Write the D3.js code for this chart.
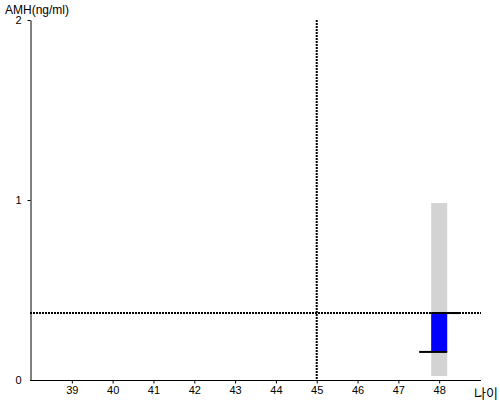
<!DOCTYPE html>
<html>
<head>
<meta charset="utf-8">
<script src="https://cdn.jsdelivr.net/npm/d3@7"></script>
<style>
  body { margin: 0; background: #fff; }
  text { font-family: Arial, "Liberation Sans", sans-serif; }
</style>
</head>
<body>
<script>
// datos
const ageTicks = [39, 40, 41, 42, 43, 44, 45, 46, 47, 48];
const amhTicks = [0, 1, 2];
const refAge = 45;          // línea vertical punteada
const refAmh = 0.372;       // línea horizontal punteada
const rangeAge = [48];
const rangeLow = [0.022];   // barra gris
const rangeHigh = [0.983];
const valueLow = [0.156];   // barra azul
const valueHigh = [0.372];

var width = 500, height = 400;

var svg = d3.select("body")
    .append("svg")
    .attr("width", width)
    .attr("height", height);

const x = d3.scaleLinear().domain([38, 49]).range([31, 480]);
const y = d3.scaleLinear().domain([0, 2]).range([380, 20]);
const barW = 16;

// barra gris (rango)
svg.selectAll("rect.range")
    .data(rangeAge)
    .enter()
    .append("rect")
    .attr("class", "range")
    .attr("x", d => x(d) - barW / 2)
    .attr("width", barW)
    .attr("y", (d, i) => y(rangeHigh[i]))
    .attr("height", (d, i) => y(rangeLow[i]) - y(rangeHigh[i]))
    .attr("fill", "#d3d3d3");

// barra azul
svg.selectAll("rect.value")
    .data(rangeAge)
    .enter()
    .append("rect")
    .attr("class", "value")
    .attr("x", d => x(d) - barW / 2)
    .attr("width", barW)
    .attr("y", (d, i) => y(valueHigh[i]))
    .attr("height", (d, i) => y(valueLow[i]) - y(valueHigh[i]))
    .attr("fill", "#0000ff");

// líneas de referencia punteadas
svg.append("line")
    .attr("x1", x(refAge)).attr("x2", x(refAge))
    .attr("y1", y(2)).attr("y2", y(0))
    .attr("stroke", "#000")
    .attr("stroke-width", 2)
    .attr("stroke-dasharray", "2,1");

svg.append("line")
    .attr("x1", 30).attr("x2", 481)
    .attr("y1", y(refAmh)).attr("y2", y(refAmh))
    .attr("stroke", "#000")
    .attr("stroke-width", 2)
    .attr("stroke-dasharray", "2,1");

// marcas negras
svg.selectAll("line.hi")
    .data(rangeAge)
    .enter()
    .append("line")
    .attr("x1", d => x(d) - barW / 2)
    .attr("x2", d => x(d) + barW / 2 + 12)
    .attr("y1", (d, i) => y(valueHigh[i]))
    .attr("y2", (d, i) => y(valueHigh[i]))
    .attr("stroke", "#000")
    .attr("stroke-width", 2);

svg.selectAll("line.lo")
    .data(rangeAge)
    .enter()
    .append("line")
    .attr("x1", d => x(d) - barW / 2 - 12)
    .attr("x2", d => x(d) + barW / 2)
    .attr("y1", (d, i) => y(valueLow[i]))
    .attr("y2", (d, i) => y(valueLow[i]))
    .attr("stroke", "#000")
    .attr("stroke-width", 2);

// eje X
var xAxis = d3.axisBottom(x)
    .tickValues(ageTicks)
    .tickSize(3)
    .tickSizeOuter(0)
    .tickPadding(3)
    .tickFormat(d3.format("d"));
var gx = svg.append("g")
    .attr("transform", "translate(0, 380.5)")
    .call(xAxis);
gx.select(".domain").attr("d", "M30,0H481");
gx.selectAll("text").style("font-size", "11px").style("fill", "#000");

// eje Y
var yAxis = d3.axisLeft(y)
    .tickValues(amhTicks)
    .tickSize(3)
    .tickSizeOuter(0)
    .tickPadding(6)
    .tickFormat(d3.format("d"));
var gy = svg.append("g")
    .attr("transform", "translate(30.5, 0)")
    .call(yAxis);
gy.selectAll("text").style("font-size", "11px").style("fill", "#000");
gy.select(".tick line").attr("x2", 0);

// títulos
svg.append("text")
    .attr("x", 5)
    .attr("y", 14)
    .style("font-size", "12px")
    .text("AMH(ng/ml)");

svg.append("text")
    .attr("x", 474)
    .attr("y", 398)
    .style("font-family", "'Noto Sans CJK KR', sans-serif")
    .style("font-size", "13px")
    .text("나이");
</script>
</body>
</html>
